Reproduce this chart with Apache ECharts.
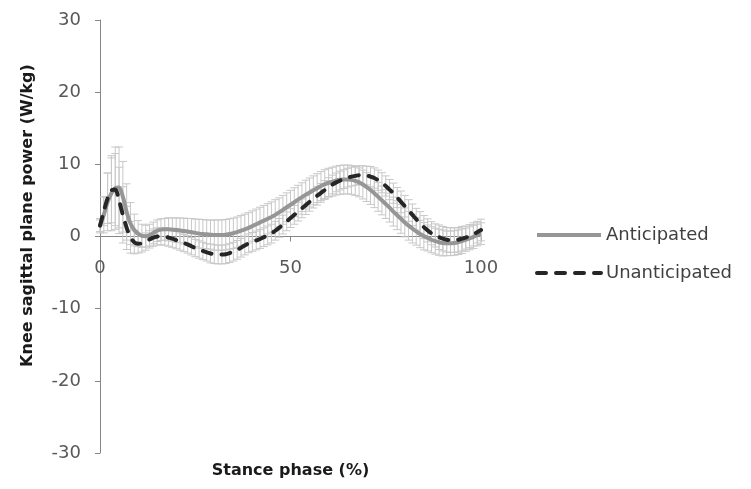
<!DOCTYPE html>
<html>
<head>
<meta charset="utf-8">
<script src="https://cdn.jsdelivr.net/npm/echarts@6/dist/echarts.min.js"></script>
<style>
  html, body { margin: 0; padding: 0; background: #fff; }
  #chart { width: 751px; height: 489px; }
</style>
</head>
<body>
<div id="chart"></div>
<script>
// Stance phase, 0–100 % in 1 % steps
const phase = Array.from({ length: 101 }, (_, i) => i);

// Mean knee sagittal plane power (W/kg)
const anticipated = [
  1.5, 3.0, 4.8, 6.0, 6.7, 6.8, 5.5, 3.4, 1.8, 0.9,
  0.4, 0.1, 0.05, 0.2, 0.5, 0.8, 0.95, 1.0, 1.0, 0.95,
  0.9, 0.85, 0.75, 0.7, 0.6, 0.5, 0.4, 0.35, 0.3, 0.25,
  0.2, 0.2, 0.2, 0.25, 0.35, 0.45, 0.6, 0.8, 1.0, 1.2,
  1.45, 1.7, 1.95, 2.2, 2.45, 2.7, 3.0, 3.35, 3.7, 4.05,
  4.4, 4.75, 5.1, 5.45, 5.8, 6.1, 6.4, 6.7, 7.0, 7.25,
  7.45, 7.6, 7.75, 7.85, 7.9, 7.9, 7.85, 7.7, 7.5, 7.2,
  6.85, 6.45, 6.0, 5.5, 5.0, 4.5, 4.0, 3.45, 2.95, 2.45,
  1.95, 1.5, 1.1, 0.7, 0.35, 0.05, -0.2, -0.45, -0.65, -0.8,
  -0.9, -0.95, -0.95, -0.9, -0.8, -0.65, -0.45, -0.25, -0.05, 0.2,
  0.4
];
const unanticipated = [
  1.5, 3.5, 5.3, 6.4, 6.5, 5.0, 3.0, 1.2, -0.1, -0.8,
  -1.0, -0.95, -0.7, -0.4, -0.15, 0.0, 0.05, 0.0, -0.15, -0.3,
  -0.5, -0.7, -0.9, -1.1, -1.35, -1.6, -1.8, -2.0, -2.2, -2.35,
  -2.45, -2.5, -2.5, -2.45, -2.3, -2.1, -1.85, -1.55, -1.25, -0.95,
  -0.75, -0.55, -0.35, -0.1, 0.15, 0.4, 0.8, 1.2, 1.65, 2.1,
  2.55, 3.0, 3.45, 3.9, 4.35, 4.8, 5.25, 5.65, 6.05, 6.45,
  6.85, 7.2, 7.5, 7.75, 7.95, 8.15, 8.3, 8.4, 8.5, 8.5,
  8.45, 8.3, 8.1, 7.8, 7.45, 7.0, 6.5, 6.0, 5.4, 4.8,
  4.2, 3.6, 3.0, 2.4, 1.85, 1.3, 0.85, 0.45, 0.15, -0.1,
  -0.3, -0.45, -0.5, -0.5, -0.45, -0.3, -0.15, 0.05, 0.3, 0.6,
  0.9
];

// Standard deviations (W/kg)
const sdAnticipated = [
  1.0, 2.5, 4.0, 5.2, 5.7, 5.6, 4.9, 3.9, 2.9, 2.2,
  1.8, 1.6, 1.5, 1.5, 1.5, 1.5, 1.5, 1.5, 1.6, 1.6,
  1.7, 1.7, 1.8, 1.8, 1.9, 1.9, 2.0, 2.0, 2.0, 2.0,
  2.1, 2.1, 2.1, 2.1, 2.1, 2.1, 2.1, 2.1, 2.1, 2.1,
  2.1, 2.1, 2.1, 2.1, 2.1, 2.1, 2.1, 2.0, 2.0, 2.0,
  2.0, 2.0, 2.0, 2.0, 2.0, 2.0, 2.0, 2.0, 2.0, 2.0,
  2.0, 2.0, 2.0, 2.0, 2.0, 2.0, 2.0, 2.0, 2.0, 2.0,
  2.0, 2.0, 2.0, 2.0, 2.0, 2.0, 2.0, 2.0, 2.0, 2.0,
  2.0, 2.0, 2.0, 1.9, 1.9, 1.9, 1.8, 1.8, 1.8, 1.8,
  1.8, 1.7, 1.7, 1.7, 1.7, 1.7, 1.6, 1.6, 1.6, 1.5,
  1.5
];
const sdUnanticipated = [
  0.8, 2.0, 3.5, 4.5, 5.0, 4.6, 3.9, 3.0, 2.2, 1.6,
  1.3, 1.2, 1.2, 1.2, 1.2, 1.2, 1.2, 1.2, 1.2, 1.2,
  1.2, 1.2, 1.2, 1.2, 1.2, 1.2, 1.2, 1.2, 1.2, 1.3,
  1.3, 1.3, 1.3, 1.3, 1.3, 1.3, 1.3, 1.3, 1.3, 1.3,
  1.3, 1.3, 1.3, 1.3, 1.3, 1.3, 1.3, 1.3, 1.3, 1.3,
  1.3, 1.3, 1.3, 1.3, 1.3, 1.3, 1.3, 1.3, 1.3, 1.3,
  1.3, 1.3, 1.3, 1.3, 1.3, 1.3, 1.3, 1.3, 1.3, 1.3,
  1.3, 1.4, 1.4, 1.4, 1.4, 1.4, 1.4, 1.4, 1.4, 1.5,
  1.5, 1.5, 1.5, 1.5, 1.6, 1.6, 1.6, 1.6, 1.6, 1.7,
  1.7, 1.7, 1.7, 1.7, 1.7, 1.7, 1.6, 1.6, 1.6, 1.5,
  1.5
];

const xTicks = { min: 0, max: 100, interval: 50 };
const yTicks = { min: -30, max: 30, interval: 10 };

const FONT = 'DejaVu Sans';
const GRID = { left: 100, right: 270, top: 20, bottom: 36 };
const CHART_H = 489;

// The horizontal axis crosses the vertical one at y = 0; shift it up from the grid bottom
const plotH = CHART_H - GRID.top - GRID.bottom;
const zeroShift = plotH * (0 - yTicks.min) / (yTicks.max - yTicks.min);

function pairs(means) {
  return phase.map((x, i) => [x, means[i]]);
}
function bars(means, sds) {
  return phase.map((x, i) => [x, means[i] - sds[i], means[i] + sds[i]]);
}

// Vertical error bar with caps at both ends
function renderErrorBar(params, api) {
  const x = api.value(0);
  const top = api.coord([x, api.value(2)]);
  const bot = api.coord([x, api.value(1)]);
  const hw = 4;
  const style = { stroke: '#c8c8c8', lineWidth: 1 };
  return {
    type: 'group',
    children: [
      { type: 'line', shape: { x1: top[0], y1: top[1], x2: bot[0], y2: bot[1] }, style },
      { type: 'line', shape: { x1: top[0] - hw, y1: top[1], x2: top[0] + hw, y2: top[1] }, style },
      { type: 'line', shape: { x1: bot[0] - hw, y1: bot[1], x2: bot[0] + hw, y2: bot[1] }, style }
    ]
  };
}

const chart = echarts.init(document.getElementById('chart'), null, { renderer: 'canvas' });

chart.setOption({
  animation: false,
  backgroundColor: '#ffffff',
  grid: Object.assign({ containLabel: false, outerBoundsMode: 'none' }, GRID),
  legend: {
    data: ['Anticipated', 'Unanticipated'],
    orient: 'vertical',
    left: 530,
    top: 221,
    itemWidth: 64,
    itemHeight: 14,
    itemGap: 20,
    itemStyle: { opacity: 0 },
    lineStyle: { width: 4 },
    textStyle: { fontFamily: FONT, fontSize: 18, color: '#404040' }
  },
  xAxis: {
    type: 'value',
    position: 'bottom',
    offset: -zeroShift,
    min: xTicks.min,
    max: xTicks.max,
    interval: xTicks.interval,
    name: 'Stance phase (%)',
    nameLocation: 'middle',
    nameGap: 226,
    nameTextStyle: { fontFamily: FONT, fontSize: 16, fontWeight: 'bold', color: '#1a1a1a' },
    axisLine: { onZero: false, lineStyle: { color: '#868686', width: 1 } },
    axisTick: { show: true, length: 5, lineStyle: { color: '#868686' } },
    axisLabel: { margin: 23, fontFamily: FONT, fontSize: 18, color: '#595959' },
    splitLine: { show: false }
  },
  yAxis: {
    type: 'value',
    min: yTicks.min,
    max: yTicks.max,
    interval: yTicks.interval,
    name: 'Knee sagittal plane power (W/kg)',
    nameLocation: 'middle',
    nameGap: 64,
    nameTextStyle: {
      fontFamily: FONT, fontSize: 16, fontWeight: 'bold', color: '#1a1a1a',
      padding: [0, 0, 0, 42]
    },
    axisLine: { show: true, onZero: false, lineStyle: { color: '#868686', width: 1 } },
    axisTick: { show: true, length: 5, lineStyle: { color: '#868686' } },
    axisLabel: { margin: 19, fontFamily: FONT, fontSize: 18, color: '#595959' },
    splitLine: { show: false }
  },
  series: [
    {
      name: 'Anticipated SD',
      type: 'custom',
      renderItem: renderErrorBar,
      encode: { x: 0, y: [1, 2] },
      data: bars(anticipated, sdAnticipated),
      z: 1,
      silent: true
    },
    {
      name: 'Unanticipated SD',
      type: 'custom',
      renderItem: renderErrorBar,
      encode: { x: 0, y: [1, 2] },
      data: bars(unanticipated, sdUnanticipated),
      z: 1,
      silent: true
    },
    {
      name: 'Anticipated',
      type: 'line',
      data: pairs(anticipated),
      symbol: 'none',
      smooth: 0.3,
      lineStyle: { color: '#969696', width: 4 },
      itemStyle: { color: '#969696' },
      z: 3
    },
    {
      name: 'Unanticipated',
      type: 'line',
      data: pairs(unanticipated),
      symbol: 'none',
      smooth: 0.3,
      lineStyle: { color: '#262626', width: 4, type: [9, 10], cap: 'round' },
      itemStyle: { color: '#262626' },
      z: 4
    }
  ]
});
</script>
</body>
</html>
